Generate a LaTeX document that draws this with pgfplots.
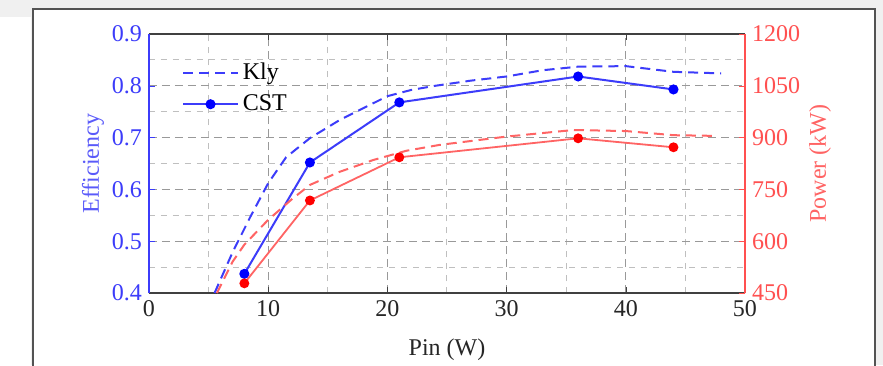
\documentclass[border=0pt]{standalone}
\usepackage{pgfplots}
\pgfplotsset{compat=1.18}
\usepackage{fontspec}
\setmainfont{Liberation Serif}
\definecolor{myblue}{RGB}{60,60,250}
\definecolor{myred}{RGB}{255,80,80}
\definecolor{lblue}{RGB}{90,90,250}
\definecolor{lred}{RGB}{255,100,100}

\pgfplotstableread{
x y
5.5 0.400
7.0 0.478
8.5 0.547
10.0 0.612
11.5 0.662
13.5 0.699
16.0 0.734
18.0 0.757
20.0 0.780
22.0 0.792
24.0 0.800
27.0 0.810
30.0 0.818
33.0 0.830
36.0 0.837
40.0 0.838
44.0 0.827
48.0 0.824
}\klyeff

\pgfplotstableread{
x y
8 0.437
13.5 0.652
21 0.768
36 0.818
44 0.793
}\csteff

\pgfplotstableread{
x y
5.7 450
7.0 540
8.0 590
10.0 662
12.0 722
13.5 763
16.0 801
18.8 835
21.6 862
24.4 879
30.0 903
35.6 922
40.0 919
44.0 907
47.5 905
}\klypow

\pgfplotstableread{
x y
8 478
13.5 718
21 843
36 898
44 872
}\cstpow

\begin{document}
\begin{tikzpicture}
\useasboundingbox (-74.5pt,-36pt) rectangle (367pt,146.5pt);
\fill[gray!12] (-74.5pt,-36pt) rectangle (367pt,146.5pt);
\fill[white] (-74.5pt,-36pt) rectangle (-59pt,138pt);
\filldraw[fill=white, draw=gray!65!black, line width=1pt] (-58pt,-40pt) rectangle (363pt,142pt);
\pgfplotsset{
  every axis/.append style={
    scale only axis, width=298pt, height=129.5pt,
    xmin=0, xmax=50,
    tick label style={font=\fontsize{12}{14}\selectfont},
    /pgf/number format/assume math mode=true,
    tick align=inside,
    major tick length=3pt,
    minor tick length=0pt,
  }
}
\begin{axis}[
  ymin=0.4, ymax=0.9,
  xtick={0,10,...,50}, minor xtick={5,15,...,45},
  ytick={0.4,0.5,...,0.9}, minor ytick={0.45,0.55,...,0.85},
  grid=both,
  major grid style={gray!80, dash pattern=on 4pt off 2.5pt, line width=0.5pt},
  minor grid style={gray!50, dash pattern=on 3pt off 3pt, line width=0.5pt},
  axis y line*=left, axis x line*=box,
  y axis line style={myblue, line width=0.8pt},
  x axis line style={black!75, line width=0.8pt},
  xtick style={black!75},
  ytick style={myblue},
  xticklabel style={black!85},
  yticklabel style={myblue, /pgf/number format/.cd, fixed, fixed zerofill, precision=1},
  xlabel={Pin (W)},
  ylabel={Efficiency},
  every axis x label/.style={at={(axis description cs:0.5,-0.22)}, anchor=center, black!85, font=\fontsize{12}{14}\selectfont},
  every axis y label/.style={at={(axis description cs:-0.094,0.5)}, anchor=center, rotate=90, lblue, font=\fontsize{12}{14}\selectfont},
  legend style={draw=none, fill=none, at={(axis description cs:0.045,0.92)}, anchor=north west,
    font=\fontsize{12}{14}\selectfont, row sep=2pt},
  legend cell align=left,
  legend image code/.code={\draw[mark repeat=2, mark phase=2, #1] plot coordinates {(0cm,0cm) (0.48cm,0cm) (0.96cm,0cm)};},
]
\addplot[myblue, line width=1pt, dash pattern=on 5pt off 3pt] table {\klyeff};
\addlegendentry{Kly}
\addplot[myblue, line width=1pt, mark=*, mark size=2pt, mark options={solid, fill=blue, draw=blue}] table {\csteff};
\addlegendentry{CST}
\end{axis}
\begin{axis}[
  ymin=450, ymax=1200,
  ytick={450,600,...,1200},
  axis y line*=right, axis x line=none,
  y axis line style={myred, line width=0.8pt},
  ytick style={myred},
  yticklabel style={myred, /pgf/number format/.cd, 1000 sep={}},
  ylabel={Power (kW)},
  every axis y label/.style={at={(axis description cs:1.126,0.5)}, anchor=center, rotate=90, lred, font=\fontsize{12}{14}\selectfont},
]
\addplot[lred, line width=1pt, dash pattern=on 5pt off 3pt] table {\klypow};
\addplot[lred, line width=0.9pt, mark=*, mark size=2pt, mark options={solid, fill=red, draw=red}] table {\cstpow};
\end{axis}
\end{tikzpicture}
\end{document}
